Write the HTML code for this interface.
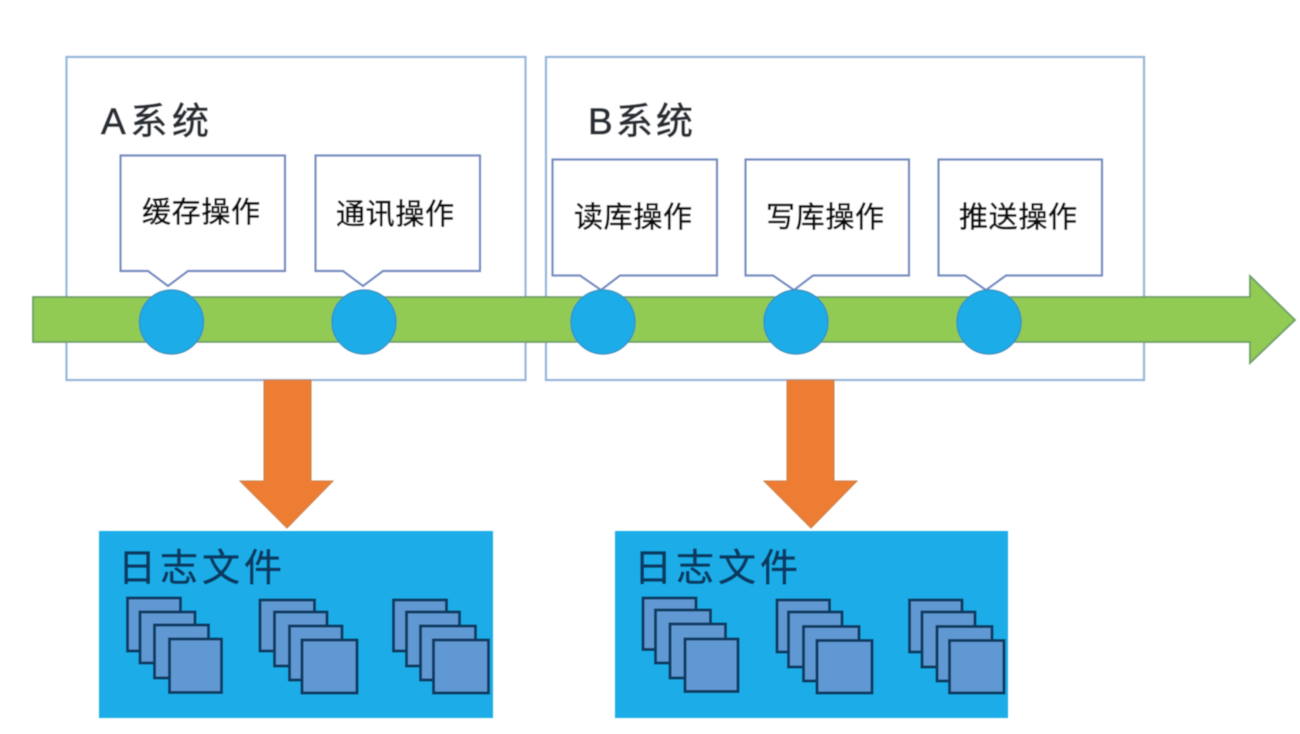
<!DOCTYPE html>
<html lang="zh">
<head>
<meta charset="utf-8">
<style>
html,body{margin:0;padding:0;background:#fff;width:1300px;height:734px;overflow:hidden}
svg{display:block}
text{font-family:"Liberation Sans","Noto Sans CJK SC",sans-serif}
.co{fill:#fff;stroke:#7089c0;stroke-width:2.2}
.sys{fill:#fff;stroke:#96b6da;stroke-width:2.2}
.c{fill:#1dade9;stroke:#2f94c4;stroke-width:1.5}
.s{fill:#5f98d2;stroke:#0c3a62;stroke-width:3}
.l{font-size:29px;fill:#111;stroke:#111;stroke-width:.55}
.t{font-size:37px;fill:#2a2f36;stroke:#2a2f36;stroke-width:.8}
.f{font-size:38px;fill:#07395e;stroke:#07395e;stroke-width:.6}
</style>
</head>
<body>
<svg width="1300" height="734" viewBox="0 0 1300 734" xmlns="http://www.w3.org/2000/svg">
<defs><filter id="b" x="-2%" y="-2%" width="104%" height="104%"><feGaussianBlur stdDeviation="0.6"/></filter></defs>
<rect width="1300" height="734" fill="#fff"/>
<g filter="url(#b)">
<rect class="sys" x="66.500" y="57" width="459" height="323"/>
<rect class="sys" x="546" y="57" width="598" height="323"/>

<polygon points="33,297 1250,297 1250,276 1295,320 1250,363 1250,342 33,342" fill="#92cb52" stroke="#6f9f68" stroke-width="1.800"/>

<path class="co" d="M120.500 155.500H285V271H188L168 286L148 271H120.500Z"/>
<path class="co" d="M315.500 155.500H480V271H383L363 286L343 271H315.500Z"/>
<path class="co" d="M552.500 159.500H717V275.500H620L601 290L580 275.500H552.500Z"/>
<path class="co" d="M745.500 159.500H909V275.500H813L794 290L773 275.500H745.500Z"/>
<path class="co" d="M938.500 159.500H1102V275.500H1006L986 290L965 275.500H938.500Z"/>

<circle class="c" cx="171.500" cy="322" r="32"/>
<circle class="c" cx="364" cy="322" r="32"/>
<circle class="c" cx="603" cy="322" r="32"/>
<circle class="c" cx="796" cy="322" r="32"/>
<circle class="c" cx="989" cy="322" r="32"/>

<polygon points="264,380 311,380 311,481 333,481 287,528 240,481 264,481" fill="#ed7d31" stroke="#c9814f" stroke-width="1"/>
<polygon points="787,380 834,380 834,481 857,481 811,528 764,481 787,481" fill="#ed7d31" stroke="#c9814f" stroke-width="1"/>

<rect x="99" y="531" width="394" height="187" fill="#1dade9"/>
<rect x="615" y="531" width="393" height="187" fill="#1dade9"/>

<rect class="s" x="127.500" y="598" width="53" height="53"/>
<rect class="s" x="140" y="612" width="55" height="51"/>
<rect class="s" x="154.500" y="625" width="54" height="53"/>
<rect class="s" x="169.500" y="639" width="52" height="53.500"/>
<rect class="s" x="260" y="600" width="54.500" height="51"/>
<rect class="s" x="274.500" y="612" width="52.500" height="54"/>
<rect class="s" x="289.500" y="626" width="52.500" height="54"/>
<rect class="s" x="302" y="640" width="55" height="53"/>
<rect class="s" x="393.500" y="600" width="53" height="51"/>
<rect class="s" x="406.500" y="612" width="53" height="54"/>
<rect class="s" x="420.500" y="626" width="55" height="54"/>
<rect class="s" x="433.500" y="640" width="55" height="53"/>

<rect class="s" x="643" y="598" width="53" height="51.500"/>
<rect class="s" x="655.500" y="610" width="55" height="53"/>
<rect class="s" x="670" y="624" width="55.500" height="54"/>
<rect class="s" x="685" y="639" width="53" height="52.500"/>
<rect class="s" x="777" y="600" width="52.500" height="52"/>
<rect class="s" x="788.500" y="612" width="53.500" height="55"/>
<rect class="s" x="803.500" y="626.500" width="55.500" height="54.500"/>
<rect class="s" x="817" y="640.500" width="55" height="52.500"/>
<rect class="s" x="909.500" y="600" width="52.500" height="52"/>
<rect class="s" x="922" y="612" width="53" height="55"/>
<rect class="s" x="937" y="626.500" width="55" height="54.500"/>
<rect class="s" x="949.500" y="640.500" width="54.500" height="52.500"/>

<text class="t" x="101" y="134" textLength="108" lengthAdjust="spacing">A系统</text>
<text class="t" x="588" y="134" textLength="105" lengthAdjust="spacing">B系统</text>
<text class="l" x="142" y="222" textLength="118" lengthAdjust="spacing">缓存操作</text>
<text class="l" x="336" y="224" textLength="118" lengthAdjust="spacing">通讯操作</text>
<text class="l" x="574" y="227" textLength="118" lengthAdjust="spacing">读库操作</text>
<text class="l" x="766" y="227" textLength="118" lengthAdjust="spacing">写库操作</text>
<text class="l" x="959" y="227" textLength="118" lengthAdjust="spacing">推送操作</text>
<text class="f" x="118" y="581" textLength="164" lengthAdjust="spacing">日志文件</text>
<text class="f" x="634" y="581" textLength="164" lengthAdjust="spacing">日志文件</text>
</g>
</svg>
</body>
</html>
